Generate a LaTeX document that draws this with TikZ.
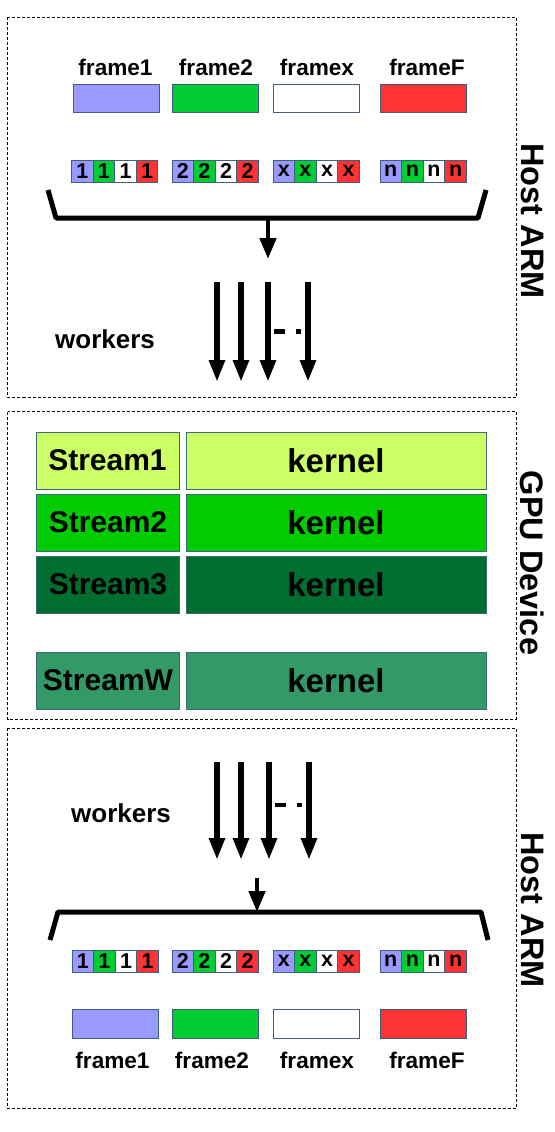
\documentclass[tikz,border=0pt]{standalone}
\usepackage{fontspec}
\setmainfont{Liberation Sans}
\usetikzlibrary{arrows.meta}
\definecolor{lav}{HTML}{9999FF}
\definecolor{grn}{HTML}{00CC33}
\definecolor{rd}{HTML}{FF3333}
\definecolor{bord}{HTML}{3F5F80}
\definecolor{sone}{HTML}{CCFF66}
\definecolor{stwo}{HTML}{00CC00}
\definecolor{sthree}{HTML}{006E2E}
\definecolor{sw}{HTML}{339966}
\definecolor{sbord}{HTML}{3D6A78}
\tikzset{
  region/.style={draw=black, line width=0.8pt, dash pattern=on 3pt off 2pt},
  framebox/.style={draw=bord, line width=0.9pt, minimum width=86pt, minimum height=28.5pt, inner sep=0pt},
  cellbox/.style={draw=bord, line width=0.9pt, minimum width=21.6pt, minimum height=22pt, inner sep=0pt, font=\fontsize{21.5}{21.5}\selectfont\bfseries},
  flabel/.style={font=\fontsize{22.6}{22.6}\selectfont\bfseries, anchor=base, inner sep=0pt},
  wlabel/.style={font=\fontsize{26}{26}\selectfont\bfseries, anchor=base, inner sep=0pt},
  side/.style={font=\fontsize{32.5}{32.5}\selectfont\bfseries, rotate=-90, inner sep=0pt},
  streambox/.style={draw=sbord, line width=0.9pt, minimum width=143pt, minimum height=57pt, inner sep=0pt, font=\fontsize{30}{30}\selectfont\bfseries},
  kernelbox/.style={draw=sbord, line width=0.9pt, minimum width=300pt, minimum height=57pt, inner sep=0pt, font=\fontsize{33}{33}\selectfont\bfseries},
  bracket/.style={line width=5pt, line join=round},
  worker/.style={line width=5.5pt, -{Triangle[width=15pt,length=22pt]}},
  merge/.style={line width=4.5pt, -{Triangle[width=16pt,length=21pt]}},
  dots/.style={line width=4.5pt, dash pattern=on 11pt off 11pt}
}
\begin{document}
\begin{tikzpicture}[x=1pt,y=-1pt]
\useasboundingbox (0,0) rectangle (554,1132);
% regions
\draw[region] (7.5,17) rectangle (516,397);
\draw[region] (7.5,411.5) rectangle (516,719);
\draw[region] (7.5,728) rectangle (516,1108);
\node[side] (h1) at (532.5,221) {Host ARM};
\node[side] (gd) at (532.5,563) {GPU Device};
\node[side] (h2) at (532.5,910) {Host ARM};
% ---------- top section ----------
\node[flabel] (t1) at (115.5,75) {frame1};
\node[flabel] (t2) at (216,75) {frame2};
\node[flabel] (t3) at (317,75) {framex};
\node[flabel] (t4) at (427,75) {frameF};
\node[framebox, fill=lav] (tf1) at (116,98.5) {};
\node[framebox, fill=grn] (tf2) at (215.5,98.5) {};
\node[framebox, fill=white] (tf3) at (316,98.5) {};
\node[framebox, fill=rd] (tf4) at (423.5,98.5) {};
\foreach \gx/\ch/\g in {71.5/1/a,172/2/b,273/x/c,380/n/d}{
  \node[cellbox, fill=lav] (tc\g1) at (\gx+10.8,171) {\ch};
  \node[cellbox, fill=grn] (tc\g2) at (\gx+32.4,171) {\ch};
  \node[cellbox, fill=white] (tc\g3) at (\gx+54,171) {\ch};
  \node[cellbox, fill=rd] (tc\g4) at (\gx+75.6,171) {\ch};
}
\coordinate (tbl) at (48,190);
\coordinate (tbr) at (486,190);
\coordinate (tbm) at (268,218);
\coordinate (tbt) at (268,259);
\draw[bracket] (tbl) -- (56,218) -- (478,218) -- (tbr);
\draw[merge] (tbm) -- (tbt);
\node[wlabel] (tw) at (105,348) {workers};
\foreach \wx/\n in {217/1,241/2,268/3,308/4}{
  \coordinate (ts\n) at (\wx,282);
  \coordinate (te\n) at (\wx,382);
  \draw[worker] (ts\n) -- (te\n);
}
\coordinate (tda) at (274,331.5);
\coordinate (tdb) at (301,331.5);
\draw[dots] (tda) -- (tdb);
% ---------- GPU section ----------
\node[streambox, fill=sone] (s1) at (107.5,460.5) {Stream1};
\node[kernelbox, fill=sone] (k1) at (336,460.5) {kernel};
\node[streambox, fill=stwo] (s2) at (108,522.5) {Stream2};
\node[kernelbox, fill=stwo] (k2) at (336,522.5) {kernel};
\node[streambox, fill=sthree] (s3) at (108,584.5) {Stream3};
\node[kernelbox, fill=sthree] (k3) at (336,584.5) {kernel};
\node[streambox, fill=sw] (sW) at (108,680.5) {StreamW};
\node[kernelbox, fill=sw] (kW) at (336,680.5) {kernel};
% ---------- bottom section ----------
\node[wlabel] (bw) at (121,822) {workers};
\foreach \wx/\n in {217/1,241/2,269/3,309/4}{
  \coordinate (bs\n) at (\wx,762);
  \coordinate (be\n) at (\wx,860);
  \draw[worker] (bs\n) -- (be\n);
}
\coordinate (bda) at (275,805);
\coordinate (bdb) at (302,805);
\draw[dots] (bda) -- (bdb);
\coordinate (bbm) at (257,878);
\coordinate (bbt) at (257,912);
\draw[merge] (bbm) -- (bbt);
\coordinate (bbl) at (50,940);
\coordinate (bbr) at (488,940);
\draw[bracket] (bbl) -- (58,912) -- (481,912) -- (bbr);
\foreach \gx/\ch/\g in {72/1/a,172/2/b,273/x/c,380/n/d}{
  \node[cellbox, fill=lav] (bc\g1) at (\gx+10.8,961) {\ch};
  \node[cellbox, fill=grn] (bc\g2) at (\gx+32.4,961) {\ch};
  \node[cellbox, fill=white] (bc\g3) at (\gx+54,961) {\ch};
  \node[cellbox, fill=rd] (bc\g4) at (\gx+75.6,961) {\ch};
}
\node[framebox, fill=lav] (bf1) at (115,1024) {};
\node[framebox, fill=grn] (bf2) at (215,1024) {};
\node[framebox, fill=white] (bf3) at (316,1024) {};
\node[framebox, fill=rd] (bf4) at (423.5,1024) {};
\node[flabel] (b1) at (112.5,1068) {frame1};
\node[flabel] (b2) at (212,1068) {frame2};
\node[flabel] (b3) at (317,1068) {framex};
\node[flabel] (b4) at (427,1068) {frameF};
\end{tikzpicture}
\end{document}
